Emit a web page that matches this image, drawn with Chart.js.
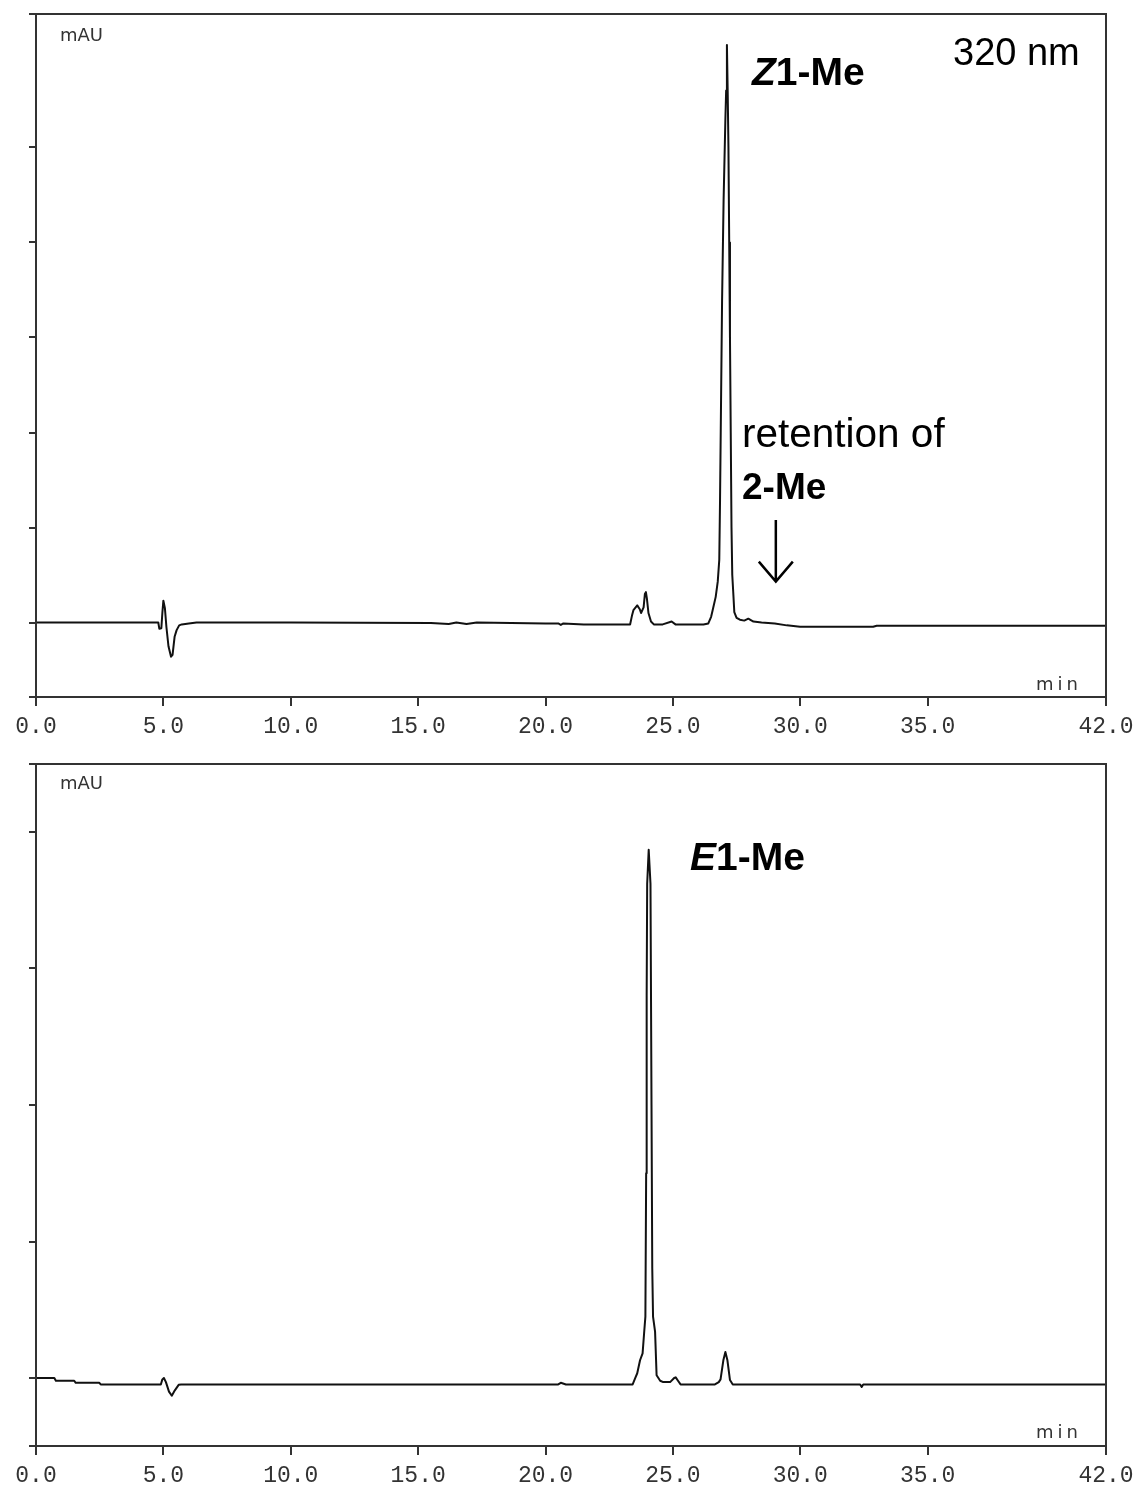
<!DOCTYPE html>
<html lang="en">
<head>
  <meta charset="UTF-8" />
  <title>HPLC 320 nm</title>
  <script src="https://cdn.jsdelivr.net/npm/chart.js"></script>
  <style>
    body {
      margin: 0;
      background: #fff;
      width: 1137px;
      height: 1486px;
      position: relative;
      overflow: hidden;
    }
    .panel {
      position: absolute;
      left: 0;
      width: 1137px;
    }
    .note {
      position: absolute;
      font-family: "Liberation Sans", Arial, sans-serif;
      font-size: 39px;
      line-height: 1;
      color: #000;
      white-space: nowrap;
    }
    .small {
      position: absolute;
      font-family: "DejaVu Sans", sans-serif;
      font-size: 18px;
      line-height: 1;
      color: #333;
    }
  </style>
</head>
<body>

  <div class="panel" style="top:0;height:750px">
    <canvas id="topChart" width="1137" height="750"></canvas>
  </div>
  <div class="panel" style="top:750px;height:736px">
    <canvas id="bottomChart" width="1137" height="736"></canvas>
  </div>

  <div class="small" style="left:60px;top:26px">mAU</div>
  <div class="small" style="left:1036px;top:675px;letter-spacing:4px">min</div>
  <div class="small" style="left:60px;top:774px">mAU</div>
  <div class="small" style="left:1036px;top:1423px;letter-spacing:4px">min</div>

  <div class="note" style="left:752px;top:52px;font-weight:bold"><i>Z</i>1-Me</div>
  <div class="note" style="left:953px;top:33px;font-size:38px">320 nm</div>
  <div class="note" style="left:742px;top:413px;font-size:40.5px">retention of</div>
  <div class="note" style="left:742px;top:468px;font-size:37px;font-weight:bold">2-Me</div>
  <div class="note" style="left:690px;top:837px;font-weight:bold"><i>E</i>1-Me</div>

  <script>
    // x axis ticks (min)
    const timeTicks = [0, 5, 10, 15, 20, 25, 30, 35, 42];

    // Z1-Me trace, top panel (signal in units of one y tick)
    const zTime = [
      0, 4.80, 4.84, 4.92, 4.96, 5.00, 5.06, 5.12, 5.20, 5.30, 5.36, 5.44, 5.52, 5.62, 5.72, 6.0, 6.3,
      10.0, 15.5, 16.2, 16.5, 16.9, 17.3, 20.0, 20.5, 20.6, 20.7, 21.5, 23.0, 23.32,
      23.40, 23.45, 23.60, 23.70, 23.75, 23.85, 23.90, 23.94, 23.98, 24.04, 24.14, 24.25,
      24.6, 24.95, 25.1, 26.2, 26.39, 26.50, 26.56, 26.68, 26.76, 26.82, 26.85, 26.89,
      26.93, 26.99, 27.06, 27.09, 27.12, 27.15, 27.18, 27.21, 27.24, 27.27, 27.30, 27.33,
      27.37, 27.41, 27.50, 27.63, 27.80, 27.96, 28.16, 28.48, 29.0, 29.47, 29.99, 32.86,
      33.0, 42.0
    ];
    const zSignal = [
      0, 0, -0.065, -0.06, 0.10, 0.23, 0.15, -0.05, -0.25, -0.36, -0.34, -0.15, -0.08, -0.03, -0.02, -0.01, 0,
      0, -0.005, -0.015, 0, -0.015, 0, -0.01, -0.01, -0.025, -0.01, -0.02, -0.02, -0.02,
      0.08, 0.13, 0.18, 0.14, 0.10, 0.16, 0.30, 0.32, 0.25, 0.10, 0.01, -0.02,
      -0.02, 0.01, -0.02, -0.02, -0.01, 0.06, 0.13, 0.27, 0.43, 0.66, 1.29, 2.34,
      3.39, 4.45, 5.30, 5.60, 6.08, 5.60, 5.00, 4.00, 3.00, 2.00, 1.00, 0.50,
      0.31, 0.11, 0.05, 0.03, 0.02, 0.04, 0.01, 0.0, -0.01, -0.03, -0.045, -0.045,
      -0.035, -0.035
    ];

    // E1-Me trace, bottom panel
    const eTime = [
      0, 0.72, 0.78, 1.50, 1.56, 2.48, 2.54, 4.90, 4.96, 5.02, 5.10, 5.22, 5.33, 5.45, 5.60, 5.70,
      20.5, 20.6, 20.8, 23.42, 23.52, 23.60, 23.71, 23.81, 23.87, 23.92, 23.95, 23.97, 23.99, 24.05,
      24.12, 24.16, 24.19, 24.22, 24.30, 24.36, 24.50, 24.62, 24.89, 25.05, 25.11, 25.20, 25.30,
      26.65, 26.80, 26.87, 26.98, 27.06, 27.14, 27.24, 27.35, 32.35, 32.41, 32.47, 42.0
    ];
    const eSignal = [
      0, 0, -0.02, -0.02, -0.035, -0.035, -0.047, -0.047, -0.01, 0.0, -0.03, -0.10, -0.13, -0.09, -0.05, -0.047,
      -0.047, -0.035, -0.047, -0.047, 0.0, 0.035, 0.13, 0.18, 0.33, 0.45, 1.5, 2.8, 3.62, 3.87,
      3.62, 2.0, 0.8, 0.45, 0.34, 0.02, -0.02, -0.03, -0.03, 0.0, 0.005, -0.02, -0.047,
      -0.047, -0.03, -0.01, 0.13, 0.19, 0.13, -0.015, -0.047, -0.047, -0.065, -0.047, -0.047
    ];

    const topTicks = [0, 1, 2, 3, 4, 5];
    const bottomTicks = [0, 1, 2, 3, 4];

    const frameColor = '#333';

    // top/right frame lines plus the little overhangs
    const framePlugin = {
      id: 'frame',
      afterDraw(chart) {
        const { ctx, chartArea: a } = chart;
        ctx.save();
        ctx.strokeStyle = frameColor;
        ctx.lineWidth = 2;
        ctx.beginPath();
        ctx.moveTo(a.left - 7, a.top);
        ctx.lineTo(a.right, a.top);
        ctx.lineTo(a.right, a.bottom + 9);
        ctx.moveTo(a.left - 7, a.bottom);
        ctx.lineTo(a.right, a.bottom);
        ctx.moveTo(a.left, a.top);
        ctx.lineTo(a.left, a.bottom + 9);
        ctx.stroke();

        const arrow = chart.options.plugins.frame && chart.options.plugins.frame.arrow;
        if (arrow) {
          const x = chart.scales.x.getPixelForValue(arrow.x);
          const y1 = chart.scales.y.getPixelForValue(arrow.from);
          const y2 = chart.scales.y.getPixelForValue(arrow.to);
          ctx.strokeStyle = '#000';
          ctx.lineWidth = 2.5;
          ctx.beginPath();
          ctx.moveTo(x, y1);
          ctx.lineTo(x, y2);
          ctx.moveTo(x - 17, y2 - 20);
          ctx.lineTo(x, y2);
          ctx.lineTo(x + 17, y2 - 20);
          ctx.stroke();
        }
        ctx.restore();
      }
    };

    function makeChart(id, times, signal, yMin, yMax, yTicks, axisHeight, arrow) {
      const points = times.map((t, i) => ({ x: t, y: signal[i] }));
      return new Chart(document.getElementById(id), {
        type: 'line',
        data: {
          datasets: [{
            data: points,
            borderColor: '#111',
            borderWidth: 2,
            borderJoinStyle: 'round',
            pointRadius: 0,
            tension: 0,
            fill: false
          }]
        },
        options: {
          responsive: false,
          animation: false,
          devicePixelRatio: 1,
          layout: { padding: { top: 14, right: 31, left: 0, bottom: 0 } },
          plugins: {
            legend: { display: false },
            tooltip: { enabled: false },
            frame: { arrow: arrow }
          },
          scales: {
            x: {
              type: 'linear',
              min: 0,
              max: 42,
              afterBuildTicks: s => { s.ticks = timeTicks.map(v => ({ value: v })); },
              afterFit: s => {
                s.height = axisHeight;
                s.paddingLeft = 0;
                s.paddingRight = 0;
              },
              border: { display: false },
              grid: {
                drawOnChartArea: false,
                drawTicks: true,
                tickLength: 9,
                color: frameColor,
                lineWidth: 2
              },
              ticks: {
                maxRotation: 0,
                autoSkip: false,
                padding: 7,
                color: '#333',
                font: { family: 'Liberation Mono', size: 23 },
                callback: v => v.toFixed(1)
              }
            },
            y: {
              min: yMin,
              max: yMax,
              afterBuildTicks: s => { s.ticks = yTicks.map(v => ({ value: v })); },
              afterFit: s => { s.width = 36; },
              border: { display: false },
              grid: {
                drawOnChartArea: false,
                drawTicks: true,
                tickLength: 7,
                color: frameColor,
                lineWidth: 2
              },
              ticks: { display: false }
            }
          }
        },
        plugins: [framePlugin]
      });
    }

    makeChart('topChart', zTime, zSignal, -0.784, 6.405, topTicks, 53,
      { x: 29.04, from: 1.08, to: 0.43 });
    makeChart('bottomChart', eTime, eSignal, -0.498, 4.498, bottomTicks, 40, null);
  </script>

</body>
</html>
